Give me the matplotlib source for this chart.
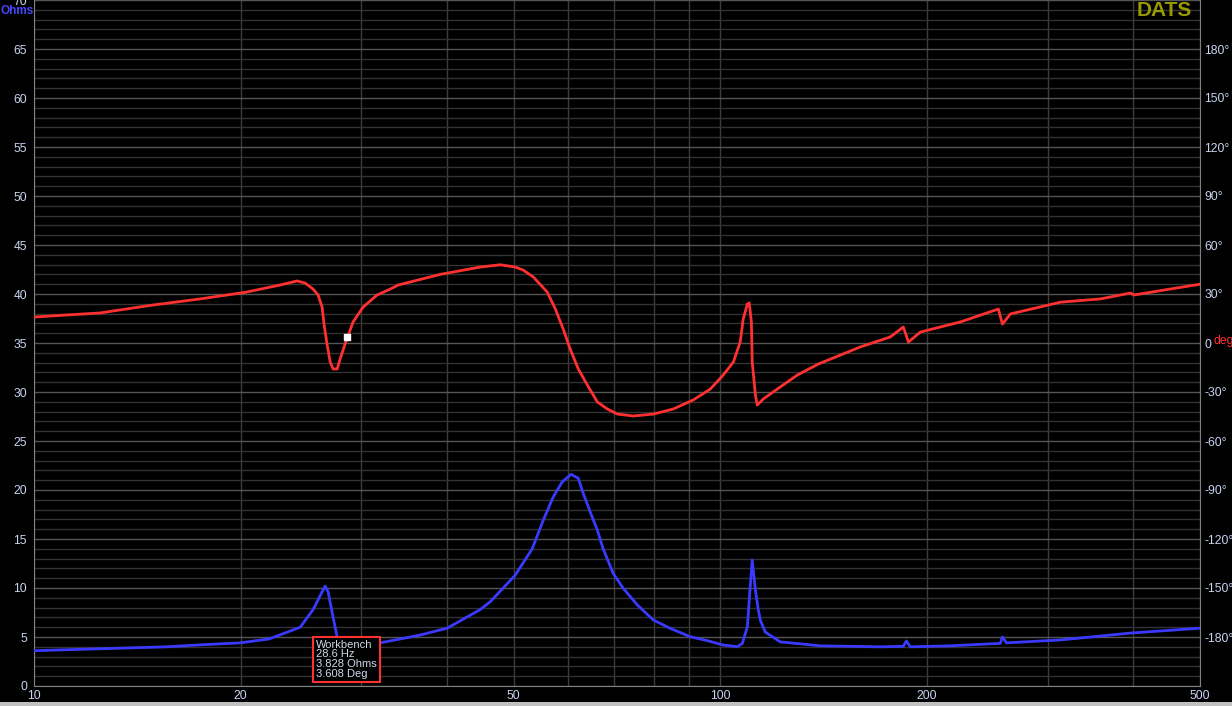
import numpy as np
import matplotlib.pyplot as plt
from matplotlib.patches import Rectangle
from matplotlib.ticker import FixedLocator, NullFormatter

# impedance magnitude (Ohms) vs frequency (Hz)
imp_freq = [10, 12.48, 14.0, 15.6, 17.46, 19.97, 22.0, 23.2, 24.43, 25.51, 26.56,
            26.83, 27.28, 27.65, 28.6, 30.0, 31.94, 36.54, 40.0, 44.69, 46.22,
            50.25, 53.2, 55.2, 57.1, 58.8, 60.6, 62.1, 63.1, 64.6, 66.2, 67.5,
            69.8, 72.2, 75.7, 79.9, 84.55, 90.4, 95.7, 101.0, 105.9, 107.7, 109.5,
            110.2, 111.3, 112.5, 113.6, 114.4, 116.3, 122.3, 139.9, 171.1, 184.8,
            186.7, 189.2, 216.4, 255.9, 257.7, 261.2, 313.1, 396, 500]
imp_ohms = [3.6, 3.8, 3.9, 4.0, 4.2, 4.4, 4.8, 5.4, 6.0, 7.8, 10.2,
            9.6, 7.0, 5.0, 3.83, 4.1, 4.4, 5.2, 5.9, 7.8, 8.6,
            11.3, 14.0, 16.9, 19.3, 20.8, 21.6, 21.2, 19.7, 17.8, 15.9, 14.0,
            11.5, 9.97, 8.27, 6.73, 5.88, 5.03, 4.63, 4.18, 4.01, 4.35, 6.05,
            8.78, 12.86, 9.8, 7.76, 6.7, 5.5, 4.5, 4.1, 4.0, 4.05,
            4.6, 4.0, 4.1, 4.35, 5.0, 4.4, 4.7, 5.4, 5.9]

# impedance phase (degrees) vs frequency (Hz)
ph_freq = [10, 12.48, 14.76, 17.46, 20.3, 22.84, 24.17, 24.83, 25.51, 25.94, 26.29,
           26.47, 26.74, 27.01, 27.28, 27.65, 27.93, 28.4, 29.17, 30.17, 31.62,
           33.04, 33.94, 39.07, 44.69, 47.79, 50.25, 51.6, 53.4, 55.95, 57.5,
           59.03, 60.43, 62.1, 64.0, 66.2, 68.45, 70.8, 74.7, 79.9, 85.4,
           91.3, 96.7, 101.0, 104.5, 106.9, 108.0, 109.5, 110.2, 111.0, 111.3,
           112.5, 113.2, 115.5, 122.3, 129.5, 138.9, 160.0, 176.9, 184.8, 188.0,
           195.7, 223.8, 254.2, 257.7, 264.7, 313.1, 358.1, 396.0, 400.5, 500]
ph_deg = [15.9, 18.4, 23.0, 27.0, 31.0, 35.5, 38.0, 36.7, 33.0, 29.4, 22.0,
          11.0, -1.2, -11.6, -15.9, -15.9, -9.8, -0.6, 12.9, 22.0, 29.4,
          33.0, 35.5, 42.0, 46.5, 47.9, 46.5, 44.7, 40.4, 31.2, 20.8,
          8.6, -3.7, -15.9, -25.7, -36.1, -40.4, -43.5, -44.7, -43.5, -40.4,
          -34.9, -28.2, -19.6, -11.6, 0.6, 14.7, 23.9, 24.5, 12.9, -11.6,
          -31.8, -38.0, -34.3, -26.9, -19.6, -12.9, -2.4, 3.7, 9.8, 0.6,
          6.7, 12.9, 20.8, 11.6, 17.8, 25.0, 27.0, 30.6, 29.4, 36.0]

ohm_ticks = list(range(0, 75, 5))
deg_ticks = list(range(-180, 210, 30))
freq_major = [10, 20, 50, 100, 200, 500]
freq_minor = [30, 40, 60, 70, 80, 90, 300, 400]

cursor_freq = 28.6
cursor_ohms = 3.828
cursor_deg = 3.608

bg = "#000000"
tick_col = "#c8d4f0"
font = "Liberation Sans"

fig = plt.figure(figsize=(12.32, 7.06), dpi=100, facecolor=bg)
ax = fig.add_axes([34 / 1232, 20 / 706, 1166 / 1232, 686 / 706])
ax.set_facecolor(bg)
ax.set_xscale("log")
ax.set_xlim(10, 500)
ax.set_ylim(0, 70)

ax.xaxis.set_major_locator(FixedLocator(freq_major))
ax.xaxis.set_minor_locator(FixedLocator(freq_minor))
ax.set_xticklabels([str(f) for f in freq_major])
ax.xaxis.set_minor_formatter(NullFormatter())
ax.yaxis.set_major_locator(FixedLocator(ohm_ticks))
ax.yaxis.set_minor_locator(FixedLocator(range(0, 71)))
ax.yaxis.set_minor_formatter(NullFormatter())

ax.grid(which="major", axis="y", color="#555555", lw=1.0)
ax.grid(which="minor", axis="y", color="#333333", lw=1.0)
ax.grid(which="both", axis="x", color="#3c3c3c", lw=1.0)
ax.set_axisbelow(True)

ax.tick_params(which="both", length=0, colors=tick_col, labelsize=8.7)
ax.tick_params(axis="y", pad=5)
ax.tick_params(axis="x", pad=3)
for lab in ax.get_xticklabels() + ax.get_yticklabels():
    lab.set_fontfamily(font)
for s in ["left", "right", "bottom"]:
    ax.spines[s].set_color("#808080")
ax.spines["top"].set_visible(False)

ax2 = ax.twinx()
ax2.set_ylim(-210, 210)
ax2.set_yticks(deg_ticks)
ax2.set_yticklabels(["0" if d == 0 else f"{d}°" for d in deg_ticks])
ax2.tick_params(length=0, colors=tick_col, labelsize=8.7, pad=3)
for lab in ax2.get_yticklabels():
    lab.set_fontfamily(font)
for s in ax2.spines.values():
    s.set_visible(False)

ax.plot(imp_freq, imp_ohms, color="#3a3aff", lw=2.0, zorder=3)
ax2.plot(ph_freq, ph_deg, color="#ff3030", lw=2.0, zorder=3)
ax2.plot([cursor_freq], [cursor_deg], marker="s", ms=5, mfc="white",
         mec="white", zorder=4)

ax.text(25.75, 0.75, f"Workbench\n{cursor_freq} Hz\n{cursor_ohms} Ohms\n{cursor_deg} Deg",
        color="#d0d8e8", fontsize=8, fontfamily=font, va="bottom", ha="left",
        linespacing=0.95, zorder=5,
        bbox=dict(boxstyle="square,pad=0.3", fc="black", ec="#ff3030", lw=1.5))

fig.text(0.5 / 1232, 1 - 11 / 706, "Ohms", color="#4848ff", fontsize=8.5,
         fontfamily=font, fontweight="bold", ha="left", va="center")
fig.text(1213 / 1232, 1 - 341 / 706, "deg", color="#ff3030", fontsize=8.7,
         fontfamily=font, ha="left", va="center")
fig.text(1192 / 1232, 1 - 10 / 706, "DATS", color="#9a9a00", fontsize=15,
         fontfamily=font, fontweight="bold", ha="right", va="center")

fig.patches.append(Rectangle((0, 0), 1, 4 / 706, transform=fig.transFigure,
                             fc="#c0c0c0", ec="none"))

fig.savefig("out.png", dpi=100, facecolor=bg)
